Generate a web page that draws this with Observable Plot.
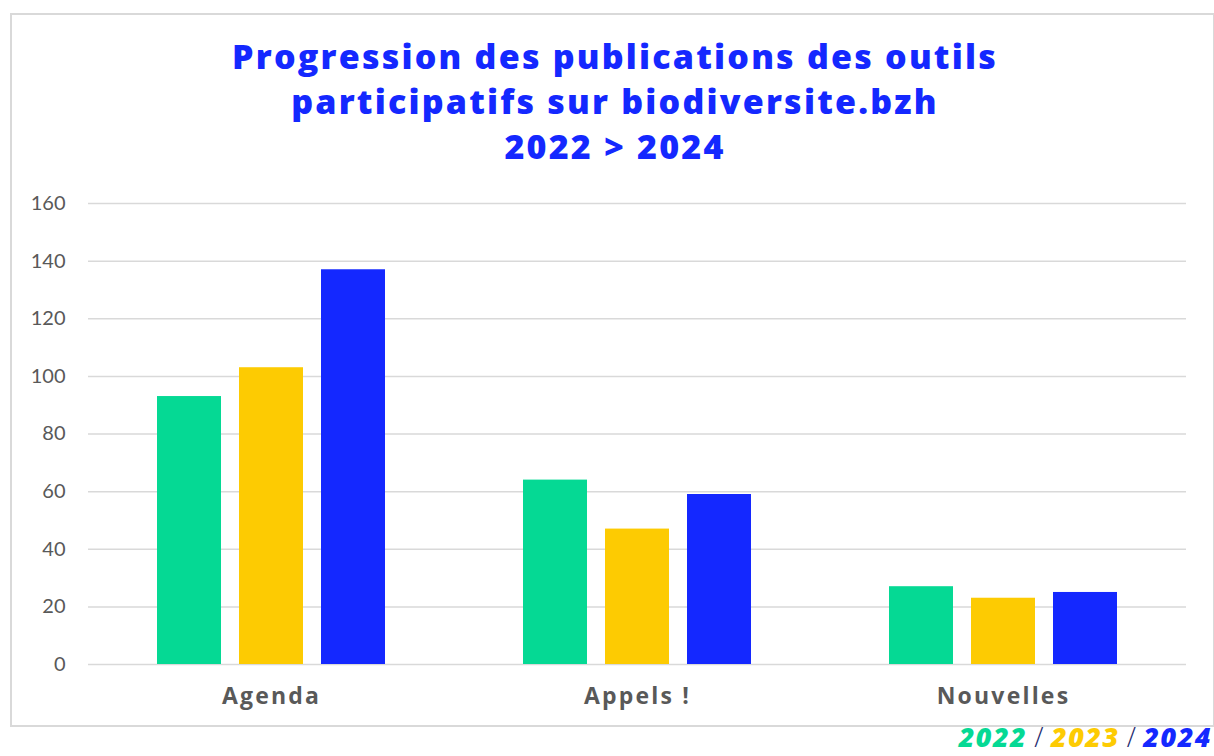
<!DOCTYPE html>
<html>
<head>
<meta charset="utf-8">
<script src="https://cdn.jsdelivr.net/npm/d3@7"></script>
<script src="https://cdn.jsdelivr.net/npm/@observablehq/plot@0.6"></script>
<style>
  html, body { margin: 0; padding: 0; background: #fff; width: 1214px; height: 756px; overflow: hidden; position: relative; }
  #frame { position: absolute; left: 10px; top: 13px; width: 1205px; height: 714px; border: 2px solid #d9d9d9; box-sizing: border-box; }
  #title { position: absolute; left: 2px; top: 34px; width: 1226px; text-align: center; font-family: "Open Sans", sans-serif; font-weight: 800; font-size: 34px; line-height: 45px; letter-spacing: 2.2px; color: #1428ff; }
  #chart { position: absolute; left: 0; top: 185px; }
  #chart g[aria-label="fx-axis tick label"] text { letter-spacing: 2.2px; }
  #legend { position: absolute; right: 2px; top: 723px; height: 27px; font-family: "Open Sans", sans-serif; font-weight: 800; font-style: italic; font-size: 27px; line-height: 27px; letter-spacing: 1.5px; white-space: nowrap; }
  #legend span { display: inline-block; height: 27px; line-height: 27px; vertical-align: top; }
  #legend .s { color: #1e2b6e; font-weight: 300; font-style: normal; margin: 0 6px 0 7px; }
</style>
</head>
<body>
<div id="frame"></div>
<div id="title">Progression des publications des outils<br>participatifs sur biodiversite.bzh<br>2022 &gt; 2024</div>
<div id="chart"></div>
<div id="legend"></div>
<script>
const categories = ["Agenda", "Appels !", "Nouvelles"];
const years = ["2022", "2023", "2024"];
const values2022 = [93, 64, 27];
const values2023 = [103, 47, 23];
const values2024 = [137, 59, 25];
const colors = ["#05d994", "#fdcb02", "#1428ff"];
const yTicks = [0, 20, 40, 60, 80, 100, 120, 140, 160];

const series = [values2022, values2023, values2024];
const data = [];
categories.forEach((c, i) => {
  years.forEach((y, j) => data.push({ category: c, year: y, value: series[j][i] }));
});

const chart = Plot.plot({
  width: 1214,
  height: 521,
  marginLeft: 87,
  marginRight: 28,
  marginTop: 18,
  marginBottom: 42,
  style: { background: "transparent", overflow: "visible" },
  fx: { domain: categories, padding: 0, label: null, axis: null },
  x: { domain: years, axis: null, paddingInner: 0.22, paddingOuter: 0.84 },
  y: { domain: [0, 160], axis: null },
  color: { domain: years, range: colors },
  marks: [
    Plot.ruleY(yTicks, { stroke: "#d9d9d9", strokeWidth: 1.5 }),
    Plot.axisY(yTicks, { tickSize: 0, tickPadding: 23, label: null, fontSize: 20, fontFamily: "Lato, sans-serif", fill: "#595959", textStroke: "none" }),
    Plot.barY(data, { fx: "category", x: "year", y: "value", fill: "year" }),
    Plot.axisFx({ anchor: "bottom", tickSize: 0, tickPadding: 23, label: null, fontSize: 23, fontWeight: "bold", fontFamily: "Open Sans, sans-serif", fill: "#595959" })
  ]
});
document.getElementById("chart").appendChild(chart);

const legend = document.getElementById("legend");
years.forEach((y, i) => {
  if (i > 0) {
    const s = document.createElement("span");
    s.className = "s";
    s.textContent = "/";
    legend.appendChild(s);
  }
  const t = document.createElement("span");
  t.style.color = colors[i];
  t.textContent = y;
  legend.appendChild(t);
});
</script>
</body>
</html>
